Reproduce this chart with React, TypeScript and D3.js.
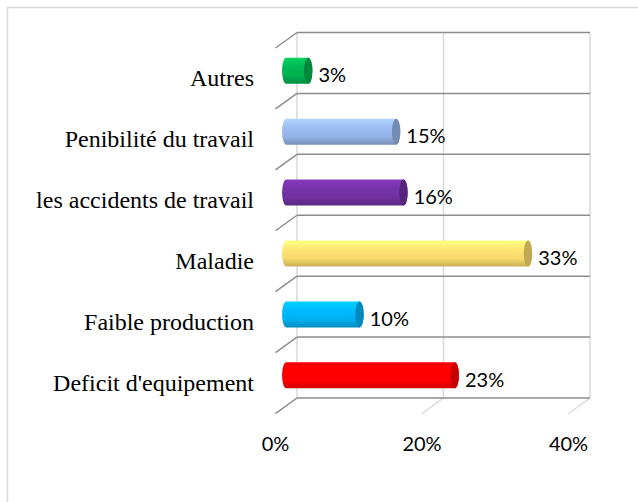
import React from "react";
import * as d3 from "d3";

const categories = [
  "Deficit d'equipement",
  "Faible production",
  "Maladie",
  "les accidents de travail",
  "Penibilité du travail",
  "Autres",
];
const values = [23, 10, 33, 16, 15, 3];
const barColors = ["#ff0000", "#00b0f0", "#f7d96c", "#7030a0", "#95b3e6", "#00b050"];
const ticks = [0, 20, 40];

const W = 638;
const H = 502;
const DX = -21.5;
const DY = 15.5;

export default function App() {
  const x = d3.scaleLinear().domain([0, 40]).range([297, 590]);
  const order = [...categories].reverse();
  const y = d3.scaleBand<string>().domain(order).range([32.5, 398]).padding(0);
  const bandCenter = (c: string) => (y(c) as number) + y.bandwidth() / 2;
  const barH = 26;
  const rx = 4.2;
  const gridYs = order.map((c) => y(c) as number).concat([398]);

  return (
    <svg width={W} height={H} style={{ position: "absolute", left: 0, top: 0 }}>
      <defs>
        {barColors.map((c, i) => {
          const col = d3.color(c) as d3.RGBColor;
          return (
            <linearGradient key={i} id={`g${i}`} x1="0" y1="0" x2="0" y2="1">
              <stop offset="0" stopColor={col.brighter(0.5).formatHex()} />
              <stop offset="0.35" stopColor={col.brighter(0.15).formatHex()} />
              <stop offset="0.7" stopColor={c} />
              <stop offset="1" stopColor={col.darker(0.6).formatHex()} />
            </linearGradient>
          );
        })}
      </defs>
      <rect x={7.5} y={7.5} width={700} height={600} fill="#fff" stroke="#d9d9d9" strokeWidth={1.5} />

      {ticks.map((t) => (
        <line key={"v" + t} x1={x(t)} x2={x(t)} y1={32.5} y2={398} stroke="#d9d9d9" strokeWidth={1.5} />
      ))}
      {ticks.map((t) => (
        <line key={"f" + t} x1={x(t)} y1={398} x2={x(t) + DX} y2={398 + DY} stroke="#d9d9d9" strokeWidth={1.5} />
      ))}
      {gridYs.map((gy, i) => (
        <g key={"h" + i}>
          <line x1={x(0)} x2={x(40)} y1={gy} y2={gy} stroke="#8c8c8c" strokeWidth={1.5} />
          <line x1={x(0)} y1={gy} x2={x(0) + DX} y2={gy + DY} stroke="#8c8c8c" strokeWidth={1.5} />
        </g>
      ))}

      {categories.map((c, i) => {
        const cy = bandCenter(c) + DY / 2;
        const xs = x(0) + DX / 2;
        const xe = x(values[i]) + DX / 2;
        const top = cy - barH / 2;
        const bot = cy + barH / 2;
        const ry = barH / 2;
        const body = `M${xs},${top} L${xe},${top} A${rx},${ry} 0 0 1 ${xe},${bot} L${xs},${bot} A${rx},${ry} 0 0 1 ${xs},${top} Z`;
        const col = d3.color(barColors[i]) as d3.RGBColor;
        return (
          <g key={c}>
            <path d={body} fill={`url(#g${i})`} />
            <ellipse cx={xe} cy={cy} rx={rx} ry={ry} fill={col.darker(0.7).formatHex()} />
            <text
              x={xe + rx + 6}
              y={cy + 11.5}
              fontFamily="Lato, 'Open Sans', sans-serif"
              fontSize={20}
              fill="#000"
            >
              {values[i]}%
            </text>
          </g>
        );
      })}

      {categories.map((c) => (
        <text
          key={"l" + c}
          x={254}
          y={bandCenter(c) + 23.5}
          textAnchor="end"
          fontFamily="'Liberation Serif', 'Times New Roman', serif"
          fontSize={24}
          fill="#000"
        >
          {c}
        </text>
      ))}

      {ticks.map((t) => (
        <text
          key={"t" + t}
          x={x(t) + DX}
          y={451}
          textAnchor="middle"
          fontFamily="Lato, 'Open Sans', sans-serif"
          fontSize={20}
          fill="#000"
        >
          {t}%
        </text>
      ))}
    </svg>
  );
}
